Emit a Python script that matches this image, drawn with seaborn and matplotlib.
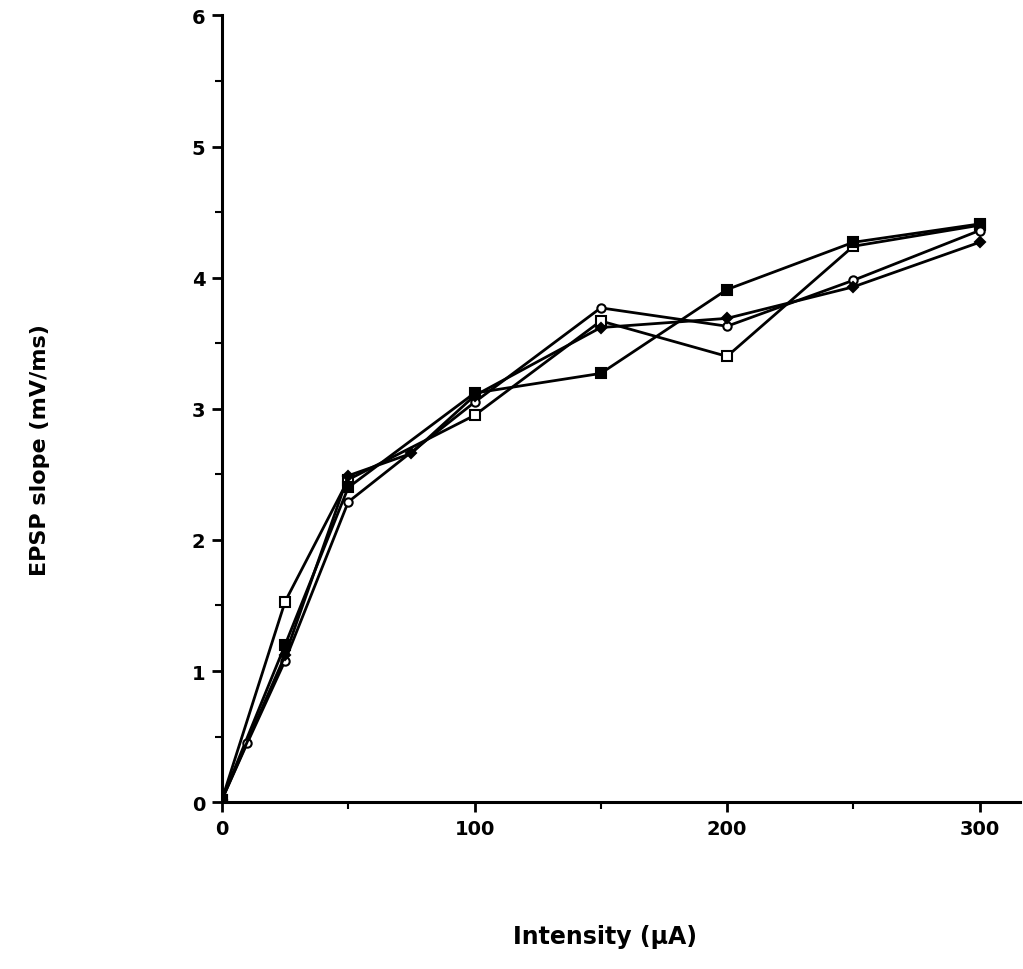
import numpy as np
import pandas as pd
import seaborn as sns
import matplotlib
matplotlib.use("Agg")
import matplotlib.pyplot as plt
from matplotlib.ticker import MultipleLocator

# stimulus intensity (uA) and EPSP slope (mV/ms) for the four curves
x_open_sq = [0, 25, 50, 100, 150, 200, 250, 300]
y_open_sq = [0.02, 1.53, 2.46, 2.95, 3.67, 3.40, 4.24, 4.40]

x_fill_sq = [0, 25, 50, 100, 150, 200, 250, 300]
y_fill_sq = [0.02, 1.20, 2.40, 3.12, 3.27, 3.91, 4.27, 4.41]

x_open_circ = [0, 10, 25, 50, 100, 150, 200, 250, 300]
y_open_circ = [0.02, 0.45, 1.08, 2.29, 3.05, 3.77, 3.63, 3.98, 4.36]

x_fill_dia = [0, 25, 50, 75, 100, 150, 200, 250, 300]
y_fill_dia = [0.02, 1.12, 2.49, 2.66, 3.10, 3.62, 3.69, 3.93, 4.27]

x_ticks = [0, 100, 200, 300]
y_ticks = [0, 1, 2, 3, 4, 5, 6]


def main():
    sns.set_style("ticks")
    plt.rcParams['font.family'] = ['DejaVu Sans']
    plt.rcParams['font.weight'] = 'bold'
    plt.rcParams['text.color'] = 'black'
    plt.rcParams['axes.labelcolor'] = 'black'
    plt.rcParams['xtick.color'] = 'black'
    plt.rcParams['ytick.color'] = 'black'
    plt.rcParams['axes.edgecolor'] = 'black'

    fig = plt.figure(figsize=(10.23, 9.70), dpi=100)
    ax = fig.add_axes([0.217, 0.172, 0.78, 0.811])

    series = [
        (x_open_sq, y_open_sq, 's', 'white', 7),
        (x_fill_sq, y_fill_sq, 's', 'black', 7),
        (x_open_circ, y_open_circ, 'o', 'white', 6),
        (x_fill_dia, y_fill_dia, 'D', 'black', 5),
    ]
    for xs, ys, mk, fc, ms in series:
        df = pd.DataFrame({'x': xs, 'y': ys})
        sns.lineplot(data=df, x='x', y='y', ax=ax, color='black', linewidth=2.0,
                     marker=mk, markersize=ms, markerfacecolor=fc,
                     markeredgecolor='black', markeredgewidth=1.5)

    ax.set_xlim(0, 316)
    ax.set_ylim(0, 6)
    ax.set_xticks(x_ticks)
    ax.set_yticks(y_ticks)
    ax.xaxis.set_minor_locator(MultipleLocator(50))
    ax.yaxis.set_minor_locator(MultipleLocator(0.5))
    ax.tick_params(axis='both', which='major', length=7, width=2, labelsize=14, pad=5)
    ax.tick_params(axis='both', which='minor', length=5, width=1.5)
    for lab in ax.get_xticklabels() + ax.get_yticklabels():
        lab.set_fontweight('bold')

    for s in ['top', 'right']:
        ax.spines[s].set_visible(False)
    for s in ['left', 'bottom']:
        ax.spines[s].set_linewidth(2.2)

    ax.set_xlabel("Intensity (µA)", fontsize=17, fontweight='bold')
    ax.set_ylabel("EPSP slope (mV/ms)", fontsize=16, fontweight='bold')
    ax.xaxis.set_label_coords(0.48, -0.155)
    ax.yaxis.set_label_coords(-0.215, 0.449)

    fig.savefig("out.png", dpi=100)


if __name__ == "__main__":
    main()
